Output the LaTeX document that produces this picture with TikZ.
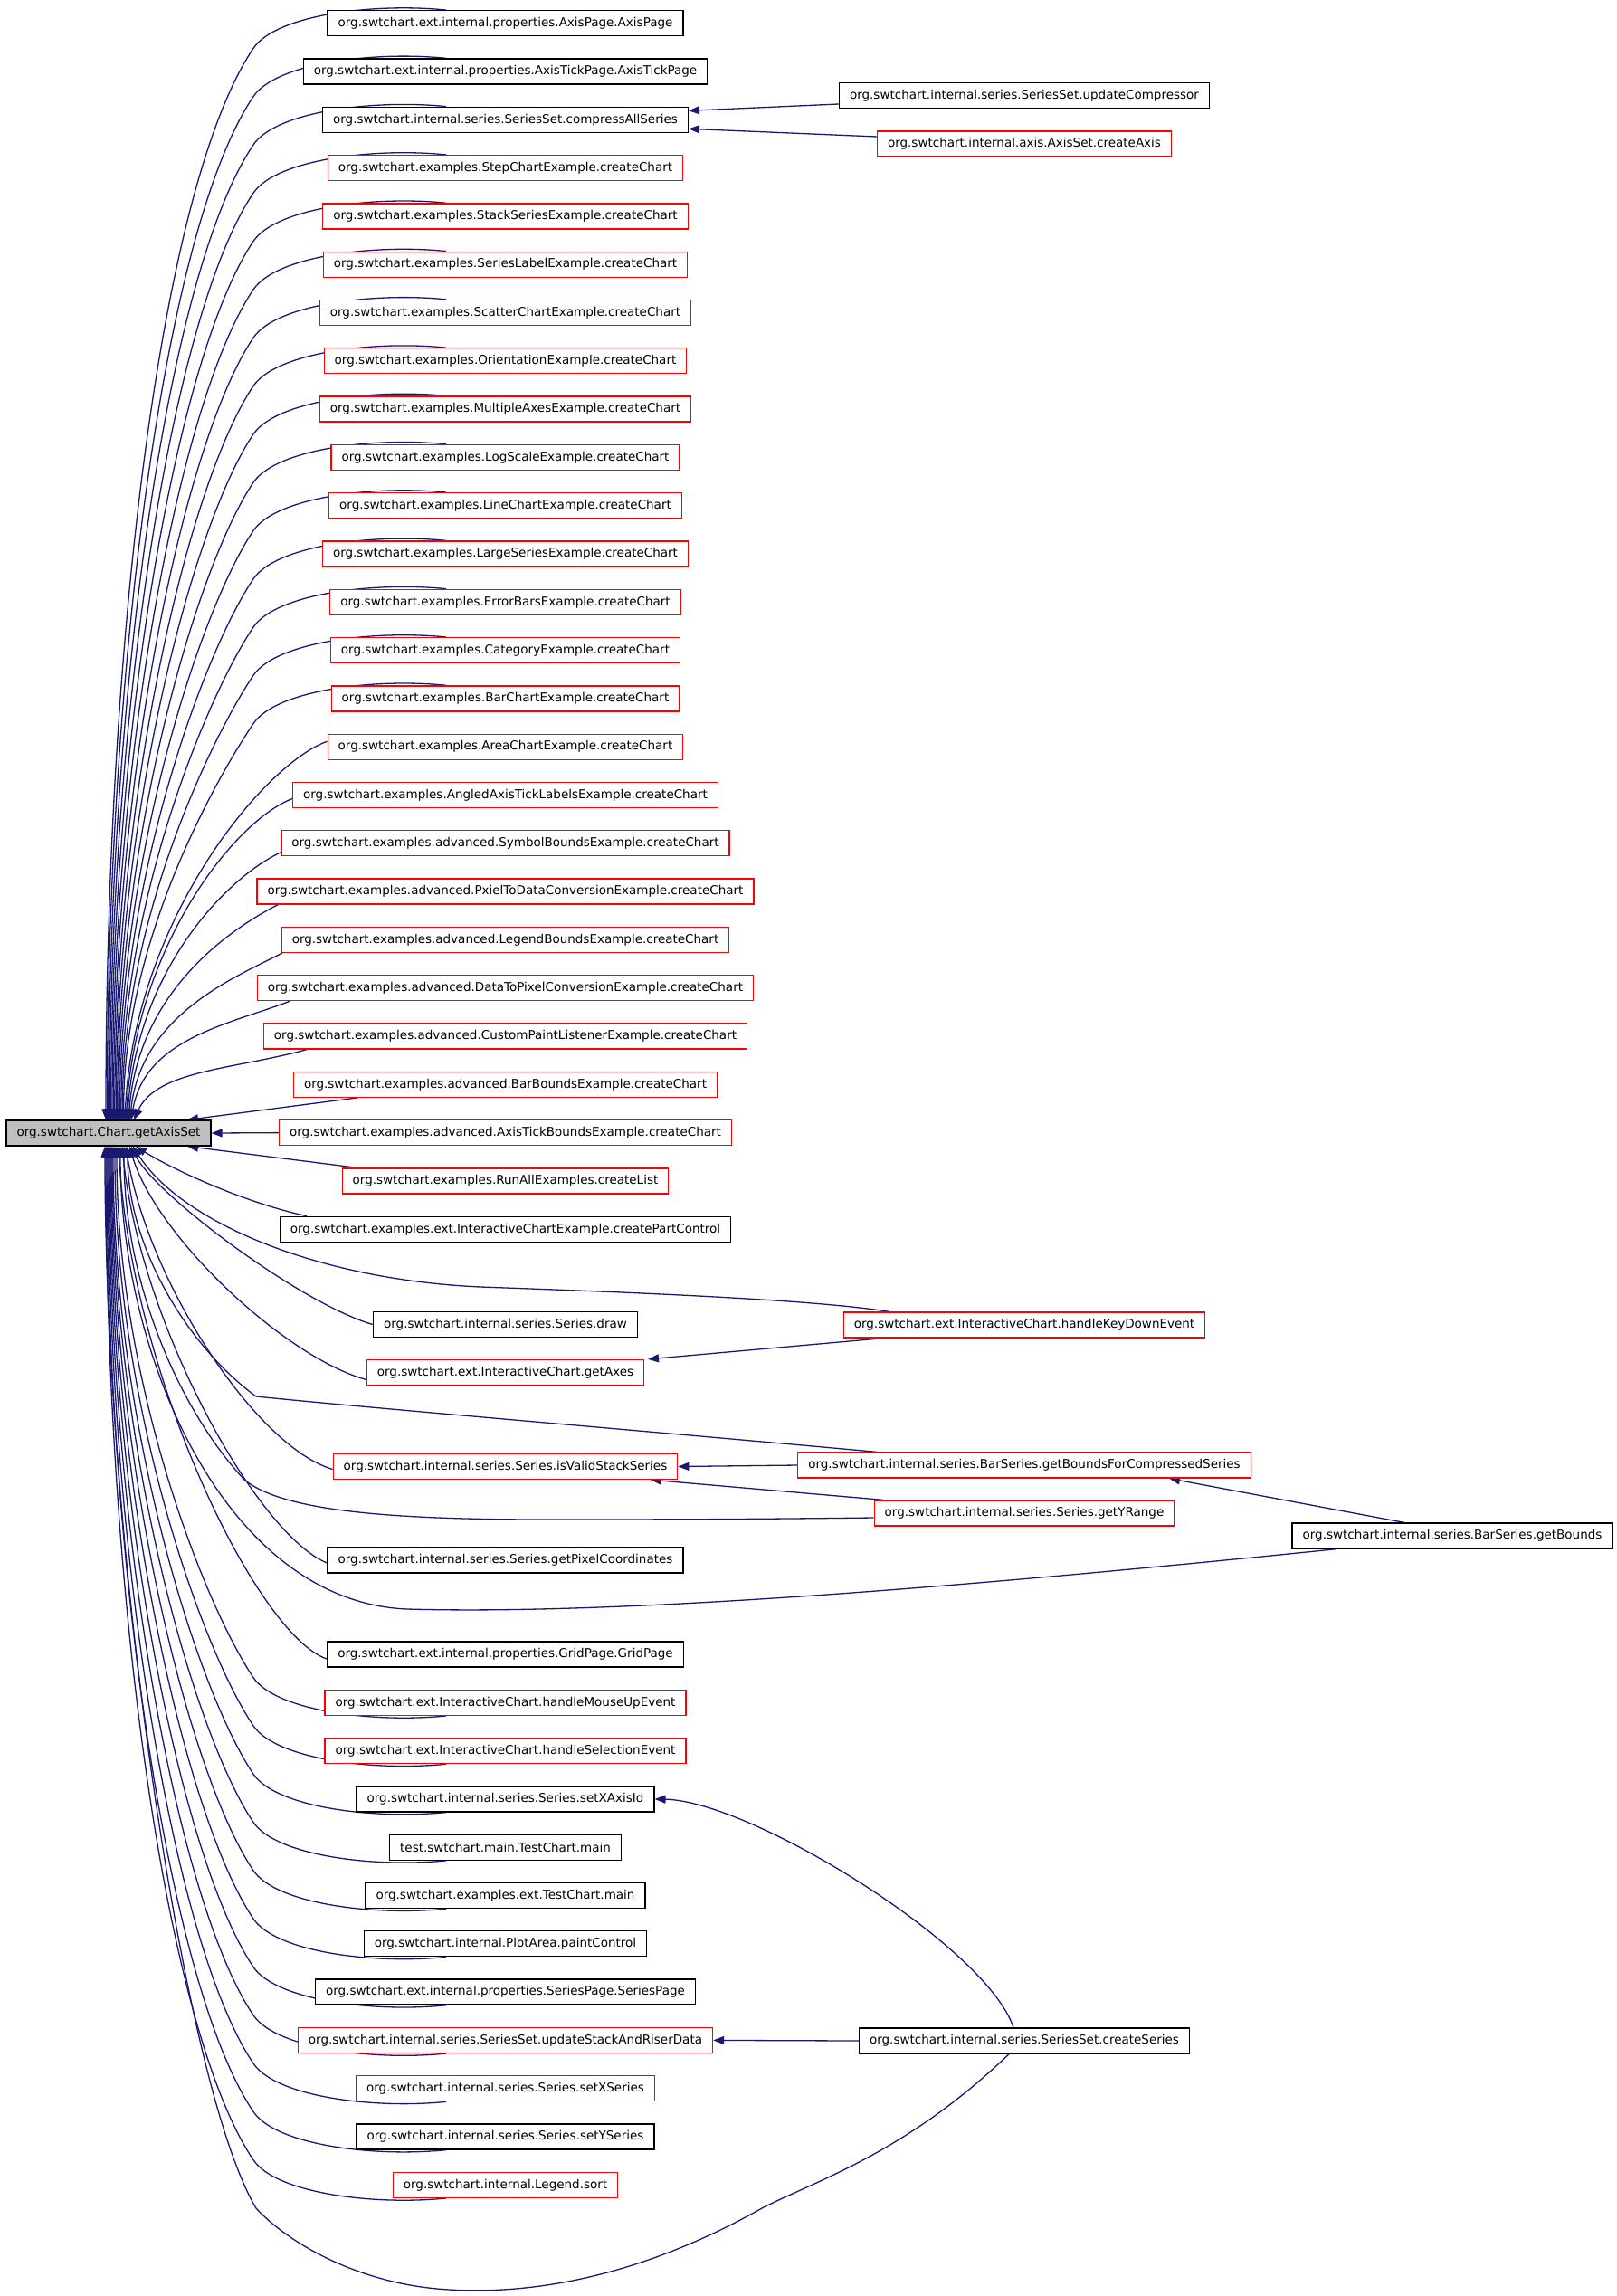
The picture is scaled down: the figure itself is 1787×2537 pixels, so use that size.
\documentclass[tikz,border=0pt]{standalone}
\usepackage{fontspec}
\setmainfont{DejaVu Sans}
\usetikzlibrary{arrows.meta,backgrounds}
\definecolor{navy}{RGB}{25,25,112}
\definecolor{shade}{RGB}{191,191,191}

\begin{document}
\begin{tikzpicture}[x=1pt,y=1pt,
    fun/.style={rectangle, draw=black, fill=white, line width=1.3pt, minimum height=28pt,
      inner xsep=11.5pt, inner ysep=0pt, font=\fontsize{13.5}{16}\selectfont},
    funred/.style={fun, draw=red},
    current/.style={fun, fill=shade},
    call/.style={draw=navy, line width=1.3pt, -{Triangle[length=12pt,width=9pt]}}]
  \useasboundingbox (0,0) rectangle (1787,-2537);

  \node at (120,-1252) [current] (axis-set) {org.swtchart.Chart.getAxisSet};

  \node at (558.5,-25.7) [fun] (axis-page) {org.swtchart.ext.internal.properties.AxisPage.AxisPage};
  \node at (558.5,-79.0) [fun] (axis-tick-page) {org.swtchart.ext.internal.properties.AxisTickPage.AxisTickPage};
  \node at (558.5,-132.3) [fun] (compress-all) {org.swtchart.internal.series.SeriesSet.compressAllSeries};
  \node at (558.5,-185.6) [funred] (step-chart) {org.swtchart.examples.StepChartExample.createChart};
  \node at (558.5,-238.9) [funred] (stack-series) {org.swtchart.examples.StackSeriesExample.createChart};
  \node at (558.5,-292.2) [funred] (series-label) {org.swtchart.examples.SeriesLabelExample.createChart};
  \node at (558.5,-345.5) [funred] (scatter-chart) {org.swtchart.examples.ScatterChartExample.createChart};
  \node at (558.5,-398.8) [funred] (orientation) {org.swtchart.examples.OrientationExample.createChart};
  \node at (558.5,-452.1) [funred] (multiple-axes) {org.swtchart.examples.MultipleAxesExample.createChart};
  \node at (558.5,-505.4) [funred] (log-scale) {org.swtchart.examples.LogScaleExample.createChart};
  \node at (558.5,-558.7) [funred] (line-chart) {org.swtchart.examples.LineChartExample.createChart};
  \node at (558.5,-612.0) [funred] (large-series) {org.swtchart.examples.LargeSeriesExample.createChart};
  \node at (558.5,-665.3) [funred] (error-bars) {org.swtchart.examples.ErrorBarsExample.createChart};
  \node at (558.5,-718.6) [funred] (category) {org.swtchart.examples.CategoryExample.createChart};
  \node at (558.5,-771.9) [funred] (bar-chart) {org.swtchart.examples.BarChartExample.createChart};
  \node at (558.5,-825.2) [funred] (area-chart) {org.swtchart.examples.AreaChartExample.createChart};
  \node at (558.5,-878.5) [funred] (angled-axis) {org.swtchart.examples.AngledAxisTickLabelsExample.createChart};
  \node at (558.5,-931.8) [funred] (symbol-bounds) {org.swtchart.examples.advanced.SymbolBoundsExample.createChart};
  \node at (558.5,-985.1) [funred] (pixel-to-data) {org.swtchart.examples.advanced.PxielToDataConversionExample.createChart};
  \node at (558.5,-1038.4) [funred] (legend-bounds) {org.swtchart.examples.advanced.LegendBoundsExample.createChart};
  \node at (558.5,-1091.7) [funred] (data-to-pixel) {org.swtchart.examples.advanced.DataToPixelConversionExample.createChart};
  \node at (558.5,-1145.0) [funred] (custom-paint) {org.swtchart.examples.advanced.CustomPaintListenerExample.createChart};
  \node at (558.5,-1198.3) [funred] (bar-bounds) {org.swtchart.examples.advanced.BarBoundsExample.createChart};
  \node at (558.5,-1251.6) [funred] (axis-tick-bounds) {org.swtchart.examples.advanced.AxisTickBoundsExample.createChart};
  \node at (558.5,-1305.0) [funred] (run-all) {org.swtchart.examples.RunAllExamples.createList};
  \node at (558.5,-1358.3) [fun] (part-control) {org.swtchart.examples.ext.InteractiveChartExample.createPartControl};
  \node at (558.5,-1463.5) [fun] (series-draw) {org.swtchart.internal.series.Series.draw};
  \node at (558.5,-1516.5) [funred] (get-axes) {org.swtchart.ext.InteractiveChart.getAxes};
  \node at (558.5,-1620.5) [funred] (valid-stack) {org.swtchart.internal.series.Series.isValidStackSeries};
  \node at (558.5,-1724.0) [fun] (pixel-coords) {org.swtchart.internal.series.Series.getPixelCoordinates};
  \node at (558.5,-1828.0) [fun] (grid-page) {org.swtchart.ext.internal.properties.GridPage.GridPage};
  \node at (558.5,-1881.3) [funred] (mouse-up) {org.swtchart.ext.InteractiveChart.handleMouseUpEvent};
  \node at (558.5,-1934.6) [funred] (selection) {org.swtchart.ext.InteractiveChart.handleSelectionEvent};
  \node at (558.5,-1987.9) [fun] (set-x-axis-id) {org.swtchart.internal.series.Series.setXAxisId};
  \node at (558.5,-2041.2) [fun] (test-main) {test.swtchart.main.TestChart.main};
  \node at (558.5,-2094.5) [fun] (ext-test-main) {org.swtchart.examples.ext.TestChart.main};
  \node at (558.5,-2147.8) [fun] (paint-control) {org.swtchart.internal.PlotArea.paintControl};
  \node at (558.5,-2201.1) [fun] (series-page) {org.swtchart.ext.internal.properties.SeriesPage.SeriesPage};
  \node at (558.5,-2254.4) [funred] (update-stack) {org.swtchart.internal.series.SeriesSet.updateStackAndRiserData};
  \node at (558.5,-2307.7) [funred] (set-x-series) {org.swtchart.internal.series.Series.setXSeries};
  \node at (558.5,-2361.0) [fun] (set-y-series) {org.swtchart.internal.series.Series.setYSeries};
  \node at (558.5,-2414.3) [funred] (legend-sort) {org.swtchart.internal.Legend.sort};

  \node at (1132,-105.5) [fun] (update-compressor) {org.swtchart.internal.series.SeriesSet.updateCompressor};
  \node at (1132,-159.0) [funred] (create-axis) {org.swtchart.internal.axis.AxisSet.createAxis};
  \node at (1132,-1464.0) [funred] (key-down) {org.swtchart.ext.InteractiveChart.handleKeyDownEvent};
  \node at (1132,-1619.0) [funred] (bounds-compressed) {org.swtchart.internal.series.BarSeries.getBoundsForCompressedSeries};
  \node at (1132,-1672.0) [funred] (y-range) {org.swtchart.internal.series.Series.getYRange};
  \node at (1605,-1697.0) [fun] (get-bounds) {org.swtchart.internal.series.BarSeries.getBounds};
  \node at (1132,-2255.0) [fun] (create-series) {org.swtchart.internal.series.SeriesSet.createSeries};

  \begin{scope}[on background layer]
  \draw[call] ([xshift=-65.5]axis-page.north) .. controls +(-80,8) and +(25,37) .. ([shift={(-278.5,-13)}]axis-page.south) .. controls +(-104.8,-155.3) and +(0,515.3) .. ([xshift=-3]axis-set.north);
  \draw[call] ([xshift=-65.5]axis-tick-page.north) .. controls +(-80,8) and +(25,37) .. ([shift={(-278.5,-13)}]axis-tick-page.south) .. controls +(-100.1,-148.5) and +(0,492.5) .. ([xshift=-1.6]axis-set.north);
  \draw[call] ([xshift=-65.5]compress-all.north) .. controls +(-80,8) and +(25,37) .. ([shift={(-278.5,-13)}]compress-all.south) .. controls +(-95.5,-141.6) and +(0,469.7) .. ([xshift=-0.2]axis-set.north);
  \draw[call] ([xshift=-65.5]step-chart.north) .. controls +(-80,8) and +(25,37) .. ([shift={(-278.5,-13)}]step-chart.south) .. controls +(-90.8,-134.7) and +(0,446.9) .. ([xshift=1.2]axis-set.north);
  \draw[call] ([xshift=-65.5]stack-series.north) .. controls +(-80,8) and +(25,37) .. ([shift={(-278.5,-13)}]stack-series.south) .. controls +(-86.2,-127.8) and +(0,424.1) .. ([xshift=2.6]axis-set.north);
  \draw[call] ([xshift=-65.5]series-label.north) .. controls +(-80,8) and +(25,37) .. ([shift={(-278.5,-13)}]series-label.south) .. controls +(-81.6,-121) and +(0,401.4) .. ([xshift=4]axis-set.north);
  \draw[call] ([xshift=-65.5]scatter-chart.north) .. controls +(-80,8) and +(25,37) .. ([shift={(-278.5,-13)}]scatter-chart.south) .. controls +(-77,-114.1) and +(0,378.7) .. ([xshift=5.4]axis-set.north);
  \draw[call] ([xshift=-65.5]orientation.north) .. controls +(-80,8) and +(25,37) .. ([shift={(-278.5,-13)}]orientation.south) .. controls +(-72.3,-107.3) and +(0,356) .. ([xshift=6.8]axis-set.north);
  \draw[call] ([xshift=-65.5]multiple-axes.north) .. controls +(-80,8) and +(25,37) .. ([shift={(-278.5,-13)}]multiple-axes.south) .. controls +(-67.8,-100.5) and +(0,333.3) .. ([xshift=8.2]axis-set.north);
  \draw[call] ([xshift=-65.5]log-scale.north) .. controls +(-80,8) and +(25,37) .. ([shift={(-278.5,-13)}]log-scale.south) .. controls +(-63.2,-93.7) and +(0,310.7) .. ([xshift=9.6]axis-set.north);
  \draw[call] ([xshift=-65.5]line-chart.north) .. controls +(-80,8) and +(25,37) .. ([shift={(-278.5,-13)}]line-chart.south) .. controls +(-58.6,-86.9) and +(0,288.2) .. ([xshift=11]axis-set.north);
  \draw[call] ([xshift=-65.5]large-series.north) .. controls +(-80,8) and +(25,37) .. ([shift={(-278.5,-13)}]large-series.south) .. controls +(-54,-80.1) and +(0,265.7) .. ([xshift=12.4]axis-set.north);
  \draw[call] ([xshift=-65.5]error-bars.north) .. controls +(-80,8) and +(25,37) .. ([shift={(-278.5,-13)}]error-bars.south) .. controls +(-49.5,-73.4) and +(0,243.3) .. ([xshift=13.8]axis-set.north);
  \draw[call] ([xshift=-65.5]category.north) .. controls +(-80,8) and +(25,37) .. ([shift={(-278.5,-13)}]category.south) .. controls +(-44.9,-66.6) and +(0,221) .. ([xshift=15.2]axis-set.north);
  \draw[call] ([xshift=-65.5]bar-chart.north) .. controls +(-80,8) and +(25,37) .. ([shift={(-278.5,-13)}]bar-chart.south) .. controls +(-40.4,-60) and +(0,199) .. ([xshift=16.6]axis-set.north);
  \draw[call] ([yshift=6]area-chart.west) .. controls +(-70,-25) and +(10,220) .. ([xshift=18]axis-set.north);
  \draw[call] ([yshift=-4]angled-axis.west) .. controls +(-65,-25) and +(10,190) .. ([xshift=19.4]axis-set.north);
  \draw[call] ([yshift=-10]symbol-bounds.west) .. controls +(-60,-28) and +(10,165) .. ([xshift=20.8]axis-set.north);
  \draw[call] ([xshift=-251.5]pixel-to-data.south) .. controls +(-55,-28) and +(10,140) .. ([xshift=22.2]axis-set.north);
  \draw[call] ([xshift=-246.5]legend-bounds.south) .. controls +(-55,-28) and +(12,115) .. ([xshift=23.6]axis-set.north);
  \draw[call] ([xshift=-238.5]data-to-pixel.south) .. controls +(-65,-25) and +(15,90) .. ([xshift=25]axis-set.north);
  \draw[call] ([xshift=-219.5]custom-paint.south) .. controls +(-80,-22) and +(25,55) .. ([xshift=28]axis-set.north);
  \draw[call] ([xshift=-163.5]bar-bounds.south) -- ([xshift=87]axis-set.north);
  \draw[call] (axis-tick-bounds.west) -- (axis-set.east);
  \draw[call] ([xshift=-163.5]run-all.north) -- ([xshift=87]axis-set.south);
  \draw[call] ([xshift=-219.5]part-control.north) .. controls +(-70,15) and +(40,-25) .. ([xshift=30]axis-set.south);
  \draw[call] ([xshift=-149]key-down.north) .. controls (900,-1436) and (700,-1428) .. (531,-1422) .. controls (350,-1414) and (200,-1350) .. ([xshift=27]axis-set.south);
  \draw[call] (series-draw.west) .. controls +(-80,23) and +(25,-52) .. ([xshift=25]axis-set.south);
  \draw[call] ([yshift=-8]get-axes.west) .. controls +(-90,25) and +(30,-100) .. ([xshift=23]axis-set.south);
  \draw[call] ([xshift=-163]bounds-compressed.north) .. controls (700,-1580) and (400,-1555) .. (283,-1543) .. controls (210,-1490) and (141,-1380) .. ([xshift=21]axis-set.south);
  \draw[call] ([yshift=-3]valid-stack.west) .. controls +(-85,25) and +(25,-150) .. ([xshift=19]axis-set.south);
  \draw[call] ([yshift=-5]y-range.west) .. controls (800,-1679) and (700,-1679) .. (601,-1679) .. controls (420,-1679) and (310,-1668) .. (270,-1635) .. controls (200,-1560) and (137,-1420) .. ([xshift=17]axis-set.south);
  \draw[call] ([yshift=-3]pixel-coords.west) .. controls +(-75,30) and +(20,-200) .. ([xshift=15]axis-set.south);
  \draw[call] ([xshift=-128]get-bounds.south) .. controls (1100,-1750) and (700,-1785) .. (450,-1778) .. controls (250,-1770) and (133,-1500) .. ([xshift=13]axis-set.south);
  \draw[call] ([yshift=-5]grid-page.west) .. controls +(-75,25) and +(15,-260) .. ([xshift=11]axis-set.south);
  \draw[call] ([xshift=-65.5]mouse-up.south) .. controls +(-80,-8) and +(25,-37) .. ([shift={(-278.5,13)}]mouse-up.north) .. controls +(-53.2,78.8) and +(0,-261.6) .. ([xshift=9]axis-set.south);
  \draw[call] ([xshift=-65.5]selection.south) .. controls +(-80,-8) and +(25,-37) .. ([shift={(-278.5,13)}]selection.north) .. controls +(-57.7,85.6) and +(0,-284.1) .. ([xshift=7]axis-set.south);
  \draw[call] ([xshift=-65.5]set-x-axis-id.south) .. controls +(-80,-8) and +(25,-37) .. ([shift={(-278.5,13)}]set-x-axis-id.north) .. controls +(-62.3,92.4) and +(0,-306.7) .. ([xshift=5]axis-set.south);
  \draw[call] ([xshift=-65.5]test-main.south) .. controls +(-80,-8) and +(25,-37) .. ([shift={(-278.5,13)}]test-main.north) .. controls +(-66.9,99.2) and +(0,-329.2) .. ([xshift=4]axis-set.south);
  \draw[call] ([xshift=-65.5]ext-test-main.south) .. controls +(-80,-8) and +(25,-37) .. ([shift={(-278.5,13)}]ext-test-main.north) .. controls +(-71.5,106) and +(0,-351.8) .. ([xshift=3]axis-set.south);
  \draw[call] ([xshift=-65.5]paint-control.south) .. controls +(-80,-8) and +(25,-37) .. ([shift={(-278.5,13)}]paint-control.north) .. controls +(-76.1,112.8) and +(0,-374.4) .. ([xshift=2]axis-set.south);
  \draw[call] ([xshift=-65.5]series-page.south) .. controls +(-80,-8) and +(25,-37) .. ([shift={(-278.5,13)}]series-page.north) .. controls +(-80.7,119.7) and +(0,-397.1) .. ([xshift=1]axis-set.south);
  \draw[call] ([xshift=-65.5]update-stack.south) .. controls +(-80,-8) and +(25,-37) .. ([shift={(-278.5,13)}]update-stack.north) .. controls +(-85.3,126.5) and +(0,-419.8) .. (axis-set.south);
  \draw[call] ([xshift=-65.5]set-x-series.south) .. controls +(-80,-8) and +(25,-37) .. ([shift={(-278.5,13)}]set-x-series.north) .. controls +(-89.9,133.4) and +(0,-442.5) .. ([xshift=-1]axis-set.south);
  \draw[call] ([xshift=-65.5]set-y-series.south) .. controls +(-80,-8) and +(25,-37) .. ([shift={(-278.5,13)}]set-y-series.north) .. controls +(-94.6,140.3) and +(0,-465.2) .. ([xshift=-2]axis-set.south);
  \draw[call] ([xshift=-65.5]legend-sort.south) .. controls +(-80,-8) and +(25,-37) .. ([shift={(-278.5,13)}]legend-sort.north) .. controls +(-99.2,147.1) and +(0,-488) .. ([xshift=-3]axis-set.south);
  \draw[call] ([xshift=-17]create-series.south) .. controls (1000,-2380) and (900,-2410) .. (842,-2440) .. controls (700,-2520) and (580,-2535) .. (497,-2530) .. controls (400,-2525) and (320,-2480) .. (283,-2440) .. controls (200,-2300) and (116,-1700) .. ([xshift=-4]axis-set.south);

  \draw[call] ([yshift=-9.5]update-compressor.west) -- ([yshift=10]compress-all.east);
  \draw[call] ([yshift=8]create-axis.west) -- ([yshift=-10]compress-all.east);
  \draw[call] ([xshift=-156]key-down.south) -- ([xshift=157.5]get-axes.north);
  \draw[call] (bounds-compressed.west) -- (valid-stack.east);
  \draw[call] ([xshift=-156]y-range.north) -- ([xshift=160.5]valid-stack.south);
  \draw[call] ([xshift=-53]get-bounds.north) -- ([xshift=160]bounds-compressed.south);
  \draw[call] ([xshift=-12]create-series.north) .. controls (1090,-2150) and (830,-1990) .. (set-x-axis-id.east);
  \draw[call] (create-series.west) -- (update-stack.east);
  \end{scope}
\end{tikzpicture}
\end{document}
